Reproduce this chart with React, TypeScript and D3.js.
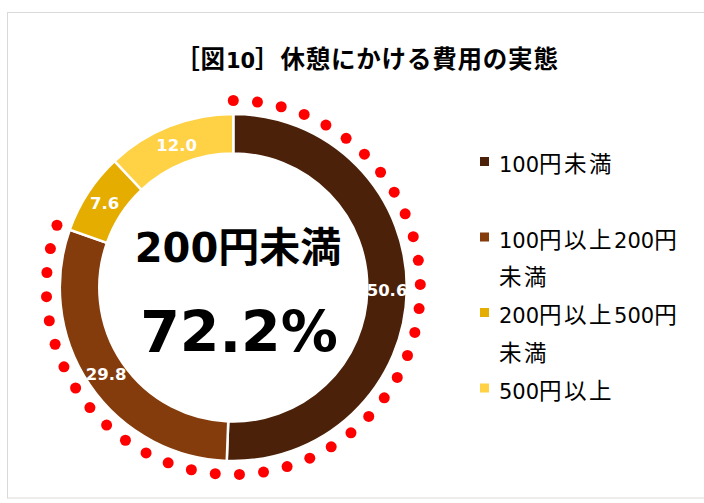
import React from "react";
import * as d3 from "d3";

const title = "［図10］休憩にかける費用の実態";
const categories = ["100円未満", "100円以上200円未満", "200円以上500円未満", "500円以上"];
const legendLines = [["100円未満"], ["100円以上200円", "未満"], ["200円以上500円", "未満"], ["500円以上"]];
const shares = [50.6, 29.8, 7.6, 12.0];
const colors = ["#4b2109", "#843c0c", "#e5ad00", "#ffd145"];
const highlighted = [0, 1]; // slices ringed by red dots
const centerLabel = "200円未満";
const centerValue = "72.2%";
const dotCount = 40;

const font = "'DejaVu Sans', 'Noto Sans CJK JP', sans-serif";

// split latin / cjk so each can get its own size (Meiryo-like proportions)
function runs(text: string, latinSize: number, cjkSize: number, cjkSpacing = 0) {
  const parts = text.match(/[0-9.%]+|[^0-9.%]+/g) || [];
  return parts.map((p, i) => {
    const latin = /[0-9.%]/.test(p);
    return (
      <tspan key={i} fontSize={latin ? latinSize : cjkSize} letterSpacing={latin ? 0 : cjkSpacing}>
        {p}
      </tspan>
    );
  });
}

export default function App() {
  const width = 704;
  const height = 503;
  const cx = 233.3;
  const cy = 287.5;
  const outerR = 173.5;
  const innerR = 134;
  const dotR = 187;

  const pie = d3
    .pie<number>()
    .sort(null)
    .value((d) => d);
  const arcs = pie(shares);
  const arc = d3.arc<d3.PieArcDatum<number>>().innerRadius(innerR).outerRadius(outerR);

  const dotEnd = arcs[highlighted[highlighted.length - 1]].endAngle;
  const dotStart = arcs[highlighted[0]].startAngle;
  const dotAngles = d3.range(dotCount).map((i) => dotStart + (i * (dotEnd - dotStart)) / (dotCount - 1));

  const legendX = 480;
  const legendTop = 172;
  const entryGap = 75.5;
  const lineGap = 37.5;

  return (
    <svg
      width={width}
      height={height}
      style={{ position: "absolute", left: 0, top: 0, background: "#fff" }}
      fontFamily={font}
    >
      <rect x={7.5} y={12.5} width={720} height={485.5} fill="#fff" stroke="#d9d9d9" strokeWidth={1} />

      <text x={367} y={68} textAnchor="middle" fontWeight="bold" fill="#000">
        {runs(title, 21, 24.5, 0.8)}
      </text>

      <g transform={`translate(${cx},${cy})`}>
        {arcs.map((a, i) => (
          <path key={categories[i]} d={arc(a) || ""} fill={colors[i]} stroke="#fff" strokeWidth={2.5} />
        ))}
        {arcs.map((a, i) => {
          const [x, y] = arc.centroid(a);
          return (
            <text
              key={"l" + i}
              x={x}
              y={y}
              dy="0.36em"
              textAnchor="middle"
              fontSize={16.5}
              fontWeight="bold"
              fill="#fff"
            >
              {shares[i].toFixed(1)}
            </text>
          );
        })}
        {dotAngles.map((ang, i) => {
          const [x, y] = d3.pointRadial(ang, dotR);
          return <circle key={"d" + i} cx={x} cy={y} r={5.5} fill="#ff0000" />;
        })}
      </g>

      <text x={238} y={262} textAnchor="middle" fontWeight="bold" fill="#000">
        {runs(centerLabel, 40, 41)}
      </text>
      <text x={239} y={352} textAnchor="middle" fontWeight="bold" fontSize={57} fill="#000">
        {centerValue}
      </text>

      {legendLines.map((lines, i) => {
        const base = legendTop + i * entryGap;
        return (
          <g key={"lg" + i}>
            <rect x={legendX} y={base - 15} width={9} height={9} fill={colors[i]} />
            {lines.map((ln, j) => (
              <text key={j} x={499} y={base + j * lineGap} fill="#000">
                {runs(ln, 21, 22.5, 2.5)}
              </text>
            ))}
          </g>
        );
      })}
    </svg>
  );
}
